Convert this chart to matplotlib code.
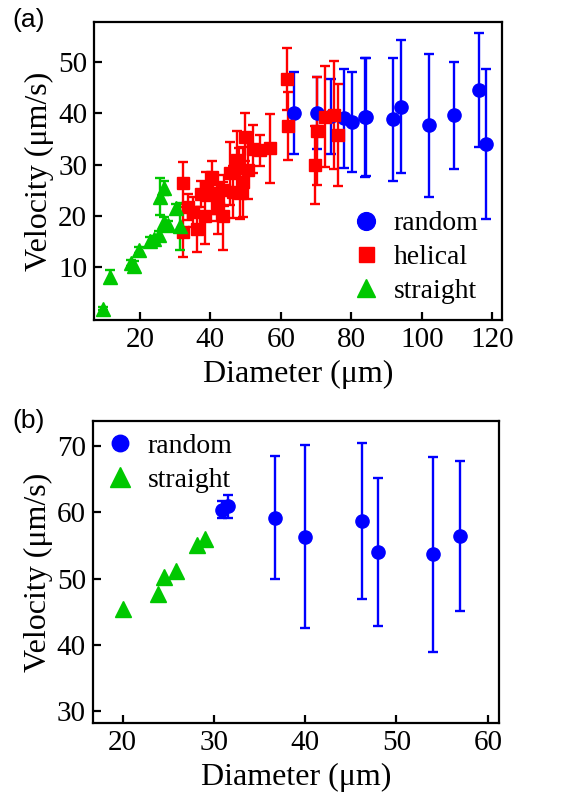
import matplotlib
matplotlib.use("Agg")
import matplotlib.pyplot as plt
import numpy as np

# panel (a) - random
a_rand_d = [63.6, 70.2, 74.3, 78.0, 80.1, 84.0, 84.3, 91.8, 94.1, 102.1, 109.2, 116.1, 118.3]
a_rand_v = [40.0, 40.1, 39.4, 39.0, 38.3, 39.2, 39.3, 38.8, 41.3, 37.7, 39.6, 44.6, 34.1]
a_rand_e = [8.0, 7.0, 7.3, 9.6, 9.8, 11.6, 11.5, 12.0, 12.9, 13.9, 10.4, 11.1, 14.6]

# panel (a) - helical
a_hel_d = [32.1, 32.1, 33.7, 35.2, 36.1, 37.3, 38.5, 38.9, 40.4, 40.8, 41.8, 42.3,
           43.5, 43.9, 45.6, 46.5, 47.7, 48.2, 48.4, 49.4, 49.8, 50.8, 52.2, 54.1,
           56.9, 61.7, 61.9, 69.7, 70.2, 72.6, 75.2, 76.2]
a_hel_v = [26.5, 16.9, 21.7, 20.8, 17.4, 24.3, 20.0, 25.7, 27.6, 24.4, 22.5, 21.5,
           20.0, 25.0, 28.3, 24.7, 31.0, 29.3, 24.4, 26.7, 35.4, 28.9, 33.0, 32.8,
           33.2, 46.6, 37.5, 29.9, 36.5, 39.3, 39.6, 35.7]
a_hel_e = [4.1, 4.8, 2.5, 3.0, 4.3, 2.5, 5.5, 2.8, 3.2, 4.0, 3.5, 5.0,
           6.6, 3.0, 6.1, 5.0, 5.5, 4.0, 5.0, 6.8, 4.6, 5.5, 4.7, 3.0,
           6.7, 6.0, 6.6, 7.6, 10.5, 9.8, 10.5, 9.9]

# panel (a) - straight
a_str_d = [9.6, 11.5, 17.4, 18.4, 19.8, 22.8, 24.1, 25.5, 25.7, 26.9, 26.9, 27.9, 30.2, 31.4]
a_str_v = [2.0, 8.2, 10.9, 10.3, 13.4, 15.2, 15.6, 16.3, 23.8, 25.4, 18.9, 18.2, 21.5, 18.0]
a_str_e = [0.3, 1.3, 0.6, 0.9, 0.5, 0.8, 0.6, 0.7, 3.6, 1.4, 1.0, 0.8, 0.9, 4.6]

# panel (b) - random
b_rand_d = [30.9, 31.5, 36.7, 40.0, 46.2, 48.0, 54.0, 57.0]
b_rand_v = [60.4, 60.9, 59.2, 56.3, 58.7, 54.0, 53.7, 56.4]
b_rand_e = [1.3, 1.7, 9.3, 13.8, 11.8, 11.2, 14.7, 11.3]

# panel (b) - straight
b_str_d = [20.0, 23.9, 24.5, 25.9, 28.2, 29.0]
b_str_v = [45.5, 47.7, 50.3, 51.1, 55.0, 56.0]

BLUE = "#0000ff"
RED = "#ff0000"
GREEN = "#00c800"
SERIF = ["Liberation Serif", "DejaVu Serif"]
plt.rcParams["font.family"] = SERIF

fig = plt.figure(figsize=(5.7, 7.95), dpi=100)
ax1 = fig.add_axes([0.165, 0.597, 0.716, 0.375])
ax2 = fig.add_axes([0.163, 0.091, 0.712, 0.379])

ebkw = dict(ls="none", elinewidth=1.7, capsize=3.5, capthick=1.7)

ax1.errorbar(a_rand_d, a_rand_v, yerr=a_rand_e, fmt="o", color=BLUE, ms=9.5, label="random", **ebkw)
ax1.errorbar(a_hel_d, a_hel_v, yerr=a_hel_e, fmt="s", color=RED, ms=8, label="helical", **ebkw)
ax1.errorbar(a_str_d, a_str_v, yerr=a_str_e, fmt="^", color=GREEN, ms=10, label="straight", **ebkw)
ax1.set_xlim(7, 122.8)
ax1.set_ylim(-0.3, 57.7)
ax1.set_xticks([20, 40, 60, 80, 100, 120])
ax1.set_yticks([10, 20, 30, 40, 50])

l_rand = ax2.errorbar(b_rand_d, b_rand_v, yerr=b_rand_e, fmt="o", color=BLUE, ms=9.5, label="random", **ebkw)
l_str, = ax2.plot(b_str_d, b_str_v, "^", color=GREEN, ms=12, label="straight", ls="none")
ax2.set_xlim(16.75, 61.2)
ax2.set_ylim(28.3, 73.7)
ax2.set_xticks([20, 30, 40, 50, 60])
ax2.set_yticks([30, 40, 50, 60, 70])

for ax in (ax1, ax2):
    for s in ax.spines.values():
        s.set_linewidth(1.6)
    ax.tick_params(direction="in", length=6, width=1.6, labelsize=21, pad=5,
                   labelfontfamily="Liberation Serif")
    ax.set_xlabel("Diameter (μm)", fontsize=23, labelpad=5)
    ax.set_ylabel("Velocity (μm/s)", fontsize=23, labelpad=3)

h, l = ax1.get_legend_handles_labels()
ax1.legend([x[0] for x in h], l, loc="lower left", frameon=False,
           prop={"size": 20}, handletextpad=0.4, labelspacing=0.3, markerscale=1.35,
           borderpad=0, borderaxespad=0, handlelength=1.2, bbox_to_anchor=(0.625, 0.055))
ax2.legend([l_rand[0], l_str], ["random", "straight"], loc="upper left", frameon=False,
           prop={"size": 20}, handletextpad=0.4, labelspacing=0.3, markerscale=1.25,
           borderpad=0, borderaxespad=0, handlelength=1.2, bbox_to_anchor=(0.025, 0.96))

fig.text(0.022, 0.99, "(a)", family=["Liberation Sans", "DejaVu Sans"], fontsize=19, va="top")
fig.text(0.022, 0.486, "(b)", family=["Liberation Sans", "DejaVu Sans"], fontsize=19, va="top")

fig.savefig("out.png", dpi=100)
